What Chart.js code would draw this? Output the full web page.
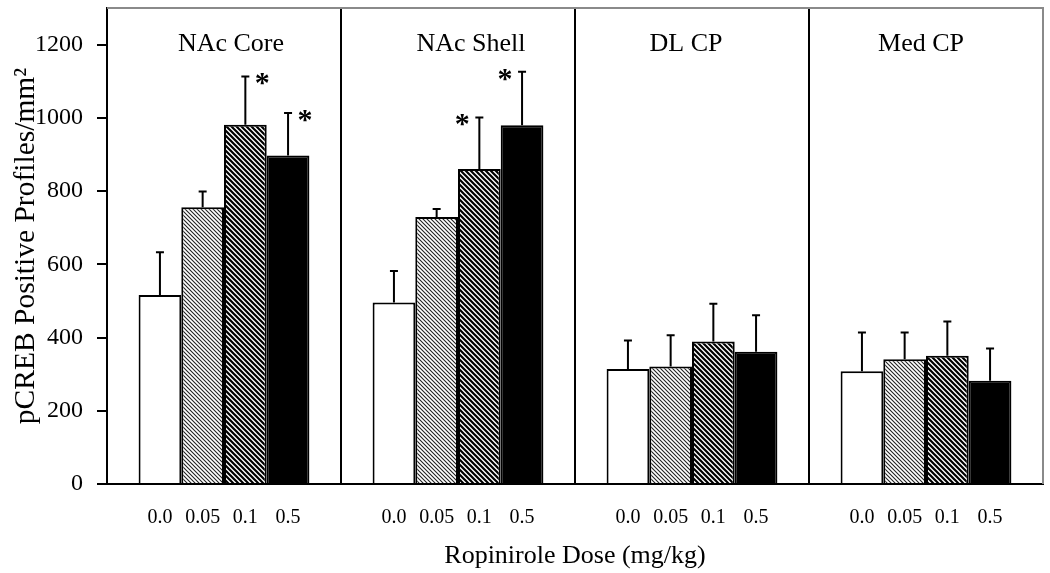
<!DOCTYPE html>
<html>
<head>
<meta charset="utf-8">
<script src="https://cdn.jsdelivr.net/npm/chart.js@4/dist/chart.umd.min.js"></script>
<style>
  html, body { margin: 0; padding: 0; background: #fff; }
  #wrap { width: 1050px; height: 573px; }
</style>
</head>
<body>
<div id="wrap"><canvas id="c" width="1050" height="573"></canvas></div>
<script>
// ---- data ----
const regions = ['NAc Core', 'NAc Shell', 'DL CP', 'Med CP'];
const doseLabels = ['0.0', '0.05', '0.1', '0.5'];
const mean00  = [516, 496, 314, 308];
const mean005 = [756, 729, 321, 341];
const mean01  = [981, 860, 389, 350];
const mean05  = [897, 980, 361, 282];
const sem00   = [117, 86, 78, 106];
const sem005  = [43, 22, 85, 73];
const sem01   = [132, 141, 103, 94];
const sem05   = [116, 146, 100, 88];
const sig00   = [false, false, false, false];
const sig005  = [false, false, false, false];
const sig01   = [true, true, false, false];
const sig05   = [true, true, false, false];
const yTicks  = [0, 200, 400, 600, 800, 1000, 1200];

// ---- styles ----
const FONT = "'Liberation Serif', 'Times New Roman', serif";
const canvas = document.getElementById('c');
const ctx0 = canvas.getContext('2d');

function hatch(period, lw, color) {
  const c = document.createElement('canvas');
  c.width = period; c.height = period;
  const g = c.getContext('2d');
  g.fillStyle = '#fff';
  g.fillRect(0, 0, period, period);
  g.strokeStyle = color;
  g.lineWidth = lw;
  g.beginPath();
  g.moveTo(-2, -2); g.lineTo(period + 2, period + 2);
  g.moveTo(-2, period - 2); g.lineTo(2, period + 2);
  g.moveTo(period - 2, -2); g.lineTo(period + 2, 2);
  g.stroke();
  return ctx0.createPattern(c, 'repeat');
}

const fills = ['#ffffff', hatch(4, 1.1, '#222'), hatch(5, 2.2, '#000'), '#000000'];
const means = [mean00, mean005, mean01, mean05];
const sems = [sem00, sem005, sem01, sem05];
const sigs = [sig00, sig005, sig01, sig05];
// asterisk side per region: +1 right of error bar, -1 left
const starSide = [1, -1, 1, 1];
// title horizontal offsets relative to panel centre (px)
const titleShift = [7, 13, -6, -5];

const overlay = {
  id: 'overlay',
  afterDatasetsDraw(chart) {
    const ctx = chart.ctx;
    const y = chart.scales.y;
    const x = chart.scales.x;
    const area = chart.chartArea;
    ctx.save();
    chart.data.datasets.forEach((ds, di) => {
      const meta = chart.getDatasetMeta(di);
      meta.data.forEach((bar, i) => {
        const top = y.getPixelForValue(means[di][i] + sems[di][i]);
        ctx.strokeStyle = '#000';
        ctx.lineWidth = 2;
        ctx.beginPath();
        ctx.moveTo(bar.x, bar.y);
        ctx.lineTo(bar.x, top);
        ctx.moveTo(bar.x - 4, top);
        ctx.lineTo(bar.x + 4, top);
        ctx.stroke();
        if (sigs[di][i]) {
          ctx.fillStyle = '#000';
          ctx.font = 'bold 30px ' + FONT;
          ctx.textAlign = 'center';
          ctx.textBaseline = 'alphabetic';
          ctx.fillText('*', bar.x + starSide[i] * 17, top + 16);
        }
        ctx.fillStyle = '#000';
        ctx.font = '20px ' + FONT;
        ctx.textAlign = 'center';
        ctx.textBaseline = 'middle';
        ctx.fillText(doseLabels[di], bar.x, area.bottom + 34);
      });
    });
    ctx.font = '26px ' + FONT;
    ctx.textAlign = 'center';
    ctx.textBaseline = 'middle';
    ctx.fillStyle = '#000';
    regions.forEach((r, i) => {
      ctx.fillText(r, x.getPixelForValue(i) + titleShift[i], area.top + 36);
    });
    ctx.strokeStyle = '#8a8a8a';
    ctx.lineWidth = 2;
    ctx.beginPath();
    ctx.moveTo(area.left, area.top);
    ctx.lineTo(area.right, area.top);
    ctx.lineTo(area.right, area.bottom);
    ctx.stroke();
    ctx.restore();
  }
};

new Chart(canvas, {
  type: 'bar',
  data: {
    labels: regions,
    datasets: doseLabels.map((d, di) => ({
      label: d,
      data: means[di],
      backgroundColor: fills[di],
      borderColor: '#000',
      borderWidth: 2,
      categoryPercentage: 0.73,
      barPercentage: 1.0
    }))
  },
  options: {
    responsive: false,
    animation: false,
    devicePixelRatio: 1,
    layout: { padding: { top: 8, right: 7, left: 0, bottom: 0 } },
    plugins: { legend: { display: false }, tooltip: { enabled: false } },
    scales: {
      x: {
        offset: true,
        grid: { display: true, offset: true, color: '#000', lineWidth: 2, drawTicks: false, drawOnChartArea: true },
        border: { display: true, color: '#000', width: 2 },
        ticks: { display: false },
        title: { display: true, text: 'Ropinirole Dose (mg/kg)', color: '#000',
                 font: { family: FONT, size: 26 }, padding: { top: 0, bottom: 1 } },
        afterFit(s) { s.height = 89; s.paddingLeft = 0; s.paddingRight = 0; }
      },
      y: {
        min: 0, max: 1300,
        afterBuildTicks(s) { s.ticks = yTicks.map(v => ({ value: v })); },
        grid: { drawOnChartArea: false, drawTicks: true, tickLength: 10, color: '#000', lineWidth: 2 },
        border: { display: true, color: '#000', width: 2 },
        ticks: { color: '#000', padding: 14, font: { family: FONT, size: 24 },
                 callback: v => String(v) },
        title: { display: true, text: 'pCREB Positive Profiles/mm²', color: '#000',
                 font: { family: FONT, size: 29.5 }, padding: { top: 9, bottom: 0 } },
        afterFit(s) { s.width = 107; s.paddingTop = 0; s.paddingBottom = 0; }
      }
    }
  },
  plugins: [overlay]
});
</script>
</body>
</html>
